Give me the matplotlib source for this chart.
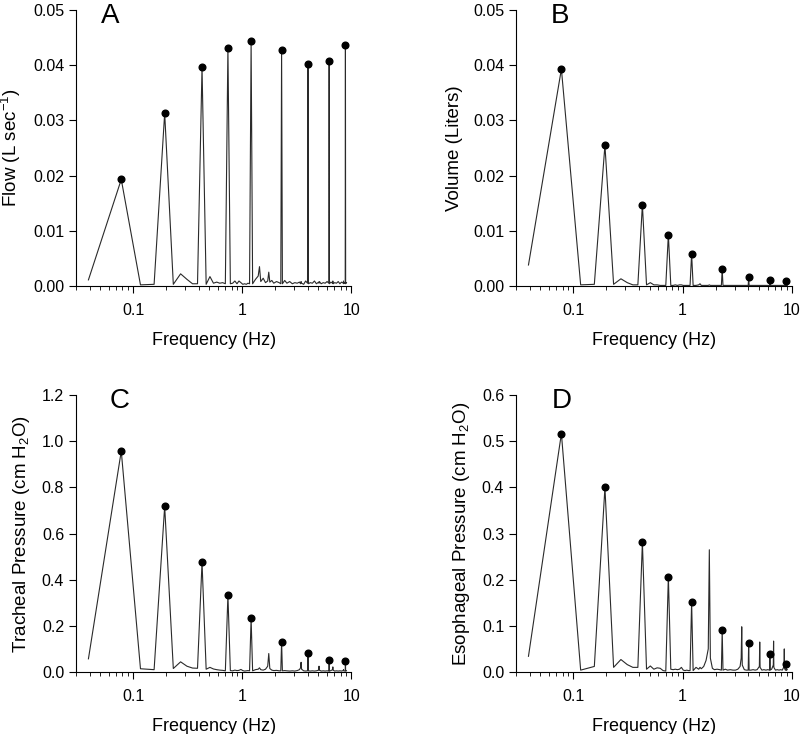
import numpy as np
import matplotlib
matplotlib.use("Agg")
import matplotlib.pyplot as plt

plt.rcParams['font.family'] = ['Liberation Sans', 'DejaVu Sans']
plt.rcParams['mathtext.default'] = 'regular'

# Frequency resolution of the spectra (Hz per bin) and the bins drawn
df = 0.039
bins = [1, 2, 3, 4, 5, 6, 7, 8, 9, 10,
        11, 12, 13, 14, 15, 16, 17, 18, 19, 20,
        21, 22, 23, 24, 25, 26, 27, 28, 29, 30,
        31, 32,
        34, 36, 37, 38, 40, 42, 44, 45, 46, 48,
        50, 53, 56, 58, 59, 60, 63, 66, 70, 74,
        78, 82, 86, 88, 89, 90, 94, 98, 102, 103,
        104, 108, 113, 118, 123, 129, 130, 131, 136, 142,
        148, 154, 160, 161, 162, 167, 173, 174, 175, 181,
        188, 195, 202, 209, 217, 218, 219, 223, 226, 227,
        228, 232]

# bins of the forcing frequencies (marked with dots)
peak_bins = [2, 5, 11, 19, 31, 59, 103, 161, 227]

flow = [0.0011, 0.0193, 0.0002, 0.0003, 0.0313, 0.0003, 0.0022, 0.0012, 0.0004, 0.0004,
        0.0396, 0.0003, 0.0017, 0.0005, 0.0007, 0.0005, 0.0006, 0.0004, 0.0432, 0.0004,
        0.0005, 0.0009, 0.0004, 0.0009, 0.0006, 0.0003, 0.0004, 0.0003, 0.0005, 0.0004,
        0.0443, 0.0004,
        0.0012, 0.0018, 0.0035, 0.0008, 0.0014, 0.0006, 0.0009, 0.0025, 0.0007, 0.0010,
        0.0005, 0.0008, 0.0006, 0.0004, 0.0428, 0.0004, 0.0010, 0.0005, 0.0008, 0.0004,
        0.0006, 0.0005, 0.0007, 0.0004, 0.0008, 0.0005, 0.0003, 0.0009, 0.0005, 0.0402,
        0.0004, 0.0006, 0.0005, 0.0009, 0.0004, 0.0007, 0.0005, 0.0008, 0.0004, 0.0006,
        0.0005, 0.0008, 0.0005, 0.0407, 0.0004, 0.0007, 0.0005, 0.0009, 0.0004, 0.0006,
        0.0005, 0.0008, 0.0004, 0.0007, 0.0005, 0.0009, 0.0004, 0.0006, 0.0005, 0.0437,
        0.0004, 0.0006]

volume = [0.0038, 0.0393, 0.0002, 0.0003, 0.0255, 0.0003, 0.0013, 0.0006, 0.0002, 0.0002,
          0.0147, 0.0002, 0.0006, 0.0002, 0.0002, 0.0001, 0.0001, 0.0001, 0.0093, 0.0001,
          0.0001, 0.0002, 0.0001, 0.0002, 0.0002, 0.0001, 0.0001, 0.0001, 0.0001, 0.0001,
          0.0058, 0.0001,
          0.0001, 0.0002, 0.0004, 0.0001, 0.0001, 0.0001, 0.0001, 0.0002, 0.0001, 0.0001,
          0.0001, 0.0001, 0.0001, 0.0001, 0.0030, 0.0001, 0.0001, 0.0001, 0.0001, 0.0001,
          0.0001, 0.0001, 0.0001, 0.0001, 0.0001, 0.0001, 0.0001, 0.0001, 0.0001, 0.0016,
          0.0001, 0.0001, 0.0001, 0.0001, 0.0001, 0.0001, 0.0001, 0.0001, 0.0001, 0.0001,
          0.0001, 0.0001, 0.0001, 0.0011, 0.0001, 0.0001, 0.0001, 0.0001, 0.0001, 0.0001,
          0.0001, 0.0001, 0.0001, 0.0001, 0.0001, 0.0001, 0.0001, 0.0001, 0.0001, 0.0009,
          0.0001, 0.0001]

tracheal = [0.057, 0.958, 0.014, 0.010, 0.718, 0.015, 0.044, 0.025, 0.017, 0.016,
            0.475, 0.012, 0.020, 0.013, 0.010, 0.008, 0.007, 0.005, 0.333, 0.006,
            0.005, 0.008, 0.006, 0.007, 0.011, 0.006, 0.004, 0.005, 0.006, 0.005,
            0.232, 0.005,
            0.010, 0.012, 0.018, 0.010, 0.008, 0.012, 0.025, 0.080, 0.015, 0.008,
            0.006, 0.007, 0.005, 0.005, 0.130, 0.005, 0.006, 0.005, 0.004, 0.005,
            0.004, 0.006, 0.010, 0.018, 0.042, 0.012, 0.005, 0.004, 0.005, 0.084,
            0.005, 0.004, 0.005, 0.004, 0.005, 0.008, 0.025, 0.008, 0.004, 0.005,
            0.004, 0.005, 0.004, 0.051, 0.004, 0.006, 0.010, 0.022, 0.008, 0.004,
            0.005, 0.004, 0.005, 0.004, 0.006, 0.010, 0.005, 0.004, 0.005, 0.046,
            0.004, 0.005]

esophageal = [0.034, 0.517, 0.004, 0.012, 0.400, 0.010, 0.027, 0.016, 0.010, 0.010,
              0.281, 0.006, 0.013, 0.006, 0.009, 0.008, 0.003, 0.002, 0.207, 0.006,
              0.005, 0.006, 0.005, 0.006, 0.010, 0.004, 0.003, 0.004, 0.003, 0.003,
              0.152, 0.003,
              0.010, 0.006, 0.010, 0.007, 0.012, 0.025, 0.050, 0.265, 0.030, 0.008,
              0.005, 0.006, 0.005, 0.004, 0.090, 0.004, 0.006, 0.004, 0.005, 0.004,
              0.004, 0.006, 0.012, 0.030, 0.098, 0.015, 0.005, 0.004, 0.004, 0.063,
              0.004, 0.004, 0.005, 0.004, 0.005, 0.012, 0.065, 0.010, 0.004, 0.005,
              0.004, 0.005, 0.004, 0.040, 0.004, 0.006, 0.015, 0.067, 0.010, 0.004,
              0.005, 0.004, 0.005, 0.004, 0.012, 0.050, 0.008, 0.004, 0.004, 0.018,
              0.004, 0.005]

panels = [
    dict(letter='A', y=flow, ylabel='Flow (L sec$^{-1}$)', ylim=(0, 0.05),
         yticks=[0, 0.01, 0.02, 0.03, 0.04, 0.05], fmt='{:.2f}'),
    dict(letter='B', y=volume, ylabel='Volume (Liters)', ylim=(0, 0.05),
         yticks=[0, 0.01, 0.02, 0.03, 0.04, 0.05], fmt='{:.2f}'),
    dict(letter='C', y=tracheal, ylabel='Tracheal Pressure (cm H$_2$O)', ylim=(0, 1.2),
         yticks=[0, 0.2, 0.4, 0.6, 0.8, 1.0, 1.2], fmt='{:.1f}'),
    dict(letter='D', y=esophageal, ylabel='Esophageal Pressure (cm H$_2$O)', ylim=(0, 0.6),
         yticks=[0, 0.1, 0.2, 0.3, 0.4, 0.5, 0.6], fmt='{:.1f}'),
]

rects = [
    [0.095, 0.6104, 0.344, 0.376],
    [0.645, 0.6104, 0.345, 0.376],
    [0.095, 0.0845, 0.344, 0.377],
    [0.645, 0.0845, 0.345, 0.377],
]
letter_pos = [(0.124, 0.954), (0.16, 0.954), (0.16, 0.953), (0.167, 0.953)]

fig = plt.figure(figsize=(8.0, 7.34), dpi=100)
freqs = np.array(bins) * df
for p, r, lp in zip(panels, rects, letter_pos):
    ax = fig.add_axes(r)
    y = np.array(p['y'])
    ax.plot(freqs, y, color='#2a2a2a', lw=0.8)
    mask = np.isin(bins, peak_bins)
    ax.plot(freqs[mask], y[mask], 'o', color='black', ms=4.8, zorder=3)
    ax.set_xscale('log')
    ax.set_xlim(0.03, 10)
    ax.set_ylim(*p['ylim'])
    ax.set_yticks(p['yticks'])
    ax.set_yticklabels([p['fmt'].format(v) for v in p['yticks']])
    ax.set_xticks([0.1, 1, 10])
    ax.set_xticklabels(['0.1', '1', '10'])
    ax.spines['top'].set_visible(False)
    ax.spines['right'].set_visible(False)
    ax.spines['left'].set_linewidth(0.8)
    ax.spines['bottom'].set_linewidth(0.8)
    ax.tick_params(axis='both', which='major', direction='out', length=5, width=0.8,
                   labelsize=11.5)
    ax.tick_params(axis='x', which='minor', direction='out', length=3, width=0.6)
    ax.tick_params(axis='x', which='major', pad=7)
    ax.set_xlabel('Frequency (Hz)', fontsize=13, labelpad=10)
    ax.set_ylabel(p['ylabel'], fontsize=13.5, labelpad=7)
    ax.text(lp[0], lp[1], p['letter'], transform=ax.transAxes, fontsize=20,
            ha='center', va='baseline')

fig.savefig('out.png', dpi=100)
